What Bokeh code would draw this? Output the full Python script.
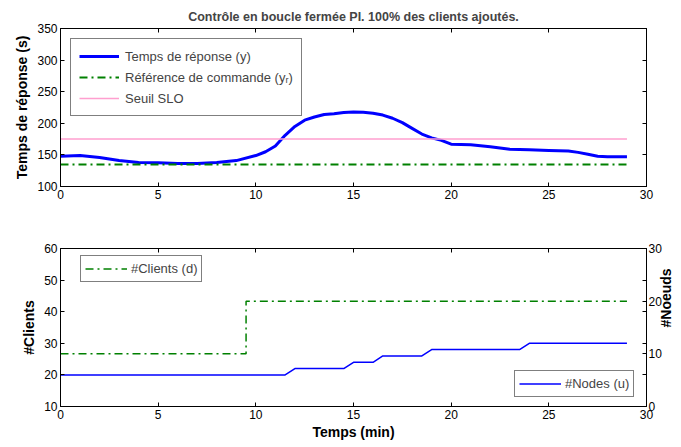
import math
from bokeh.plotting import figure
from bokeh.layouts import column
from bokeh.models import (Range1d, LinearAxis, FixedTicker, Legend, LegendItem, Title)
from bokeh.embed import file_html
from bokeh.resources import INLINE

# ---------------- data ----------------
# Top panel: response time (s) vs time (min)
t_resp = [0, 1, 2, 3, 4, 5, 6, 7, 8, 9, 10, 10.5, 11, 11.5, 12, 12.5, 13, 13.5, 14, 14.5,
          15, 15.5, 16, 16.5, 17, 17.5, 18, 18.5, 19, 19.5, 20, 21, 22, 23, 24, 25, 26, 26.5,
          27, 27.5, 28, 29]
y_resp = [148, 149, 146, 141, 138, 137.5, 136.5, 136.5, 138, 141, 149, 155, 164, 181, 195,
          205, 210, 214, 215, 217, 218, 217.5, 216, 213, 208, 201, 192, 183, 177, 173, 167, 166,
          163, 159, 158, 157, 156, 154, 151, 148, 147, 147]
t_ref = [0, 29]
y_ref = [135, 135]       # reference (y_r)
y_slo = [175, 175]       # SLO threshold

# Bottom panel
t_clients = [0, 9.5, 9.5, 29]
clients = [10, 10, 20, 20]          # plotted on right axis scale
t_nodes = [0, 11.5, 12, 14.5, 15, 16, 16.5, 18.5, 19, 23.5, 24, 29]
nodes = [20, 20, 22, 22, 24, 24, 26, 26, 28, 28, 30, 30]

x_ticks = [0, 5, 10, 15, 20, 25, 30]
top_y_ticks = [100, 150, 200, 250, 300, 350]
bot_y_ticks = [10, 20, 30, 40, 50, 60]
right_ticks = [0, 10, 20, 30]

FONT = "Liberation Sans"
BLUE = "#0000ff"
GREEN = "#008000"
PINK = "#ff9fcf"

LEFT = 60
RIGHT = 33
FW = 586
FH = 158


def style_axis(ax, labels=True):
    ax.major_tick_in = 4
    ax.major_tick_out = 0
    ax.minor_tick_line_color = None
    ax.axis_line_color = "black"
    ax.major_tick_line_color = "black"
    ax.major_label_text_font = FONT
    ax.major_label_text_font_size = "12px"
    ax.major_label_text_color = "black"
    ax.axis_label_text_font = FONT
    ax.axis_label_text_font_size = "14px"
    ax.axis_label_text_font_style = "bold"
    ax.axis_label_text_color = "black"
    ax.major_label_standoff = 3
    if not labels:
        ax.major_label_text_font_size = "0px"
        ax.major_label_text_color = None


# ---------------- top figure ----------------
p1 = figure(frame_width=FW, frame_height=FH, output_backend="svg", toolbar_location=None,
            x_range=Range1d(0, 30), y_range=Range1d(100, 350),
            min_border_left=LEFT, min_border_right=RIGHT, min_border_top=28, min_border_bottom=22)
p1.title = Title(text="Contrôle en boucle fermée PI. 100% des clients ajoutés.", align="center",
                 text_font=FONT, text_font_size="12.5px", text_font_style="bold", standoff=9)
p1.outline_line_color = "black"
p1.xgrid.visible = False
p1.ygrid.visible = False
p1.xaxis.ticker = FixedTicker(ticks=x_ticks)
p1.yaxis.ticker = FixedTicker(ticks=top_y_ticks)
p1.yaxis.axis_label = "Temps de réponse (s)"
style_axis(p1.xaxis[0])
style_axis(p1.yaxis[0])
p1.yaxis.axis_label_standoff = 4
ax_t = LinearAxis(ticker=FixedTicker(ticks=x_ticks))
style_axis(ax_t, labels=False)
p1.add_layout(ax_t, "above")
ax_r = LinearAxis(ticker=FixedTicker(ticks=top_y_ticks))
style_axis(ax_r, labels=False)
p1.add_layout(ax_r, "right")

r_y = p1.line(t_resp, y_resp, line_color=BLUE, line_width=3)
r_ref = p1.line(t_ref, y_ref, line_color=GREEN, line_width=2, line_dash="8 4 2 4")
r_slo = p1.line(t_ref, y_slo, line_color=PINK, line_width=1.5)

leg1 = Legend(items=[LegendItem(label="Temps de réponse (y)", renderers=[r_y]),
                     LegendItem(label="Référence de commande (yᵣ)", renderers=[r_ref]),
                     LegendItem(label="Seuil SLO", renderers=[r_slo])],
              location="top_left", margin=10, padding=8, spacing=3,
              glyph_width=40, glyph_height=18, label_height=18, label_standoff=6,
              label_text_font=FONT, label_text_font_size="13px",
              border_line_color="black", border_line_width=1, background_fill_alpha=1)
p1.add_layout(leg1, "center")

# ---------------- bottom figure ----------------
p2 = figure(frame_width=FW, frame_height=FH, output_backend="svg", toolbar_location=None,
            x_range=Range1d(0, 30), y_range=Range1d(10, 60),
            min_border_left=LEFT, min_border_right=RIGHT, min_border_top=40, min_border_bottom=10)
p2.extra_y_ranges = {"nodes": Range1d(0, 30)}
p2.outline_line_color = "black"
p2.xgrid.visible = False
p2.ygrid.visible = False
p2.xaxis.ticker = FixedTicker(ticks=x_ticks)
p2.yaxis.ticker = FixedTicker(ticks=bot_y_ticks)
p2.yaxis.axis_label = "#Clients"
p2.xaxis.axis_label = "Temps (min)"
style_axis(p2.xaxis[0])
style_axis(p2.yaxis[0])
p2.yaxis.axis_label_standoff = 4
p2.xaxis.axis_label_standoff = 2
ax_t2 = LinearAxis(ticker=FixedTicker(ticks=x_ticks))
style_axis(ax_t2, labels=False)
p2.add_layout(ax_t2, "above")
ax_r2 = LinearAxis(y_range_name="nodes", axis_label="#Noeuds",
                   ticker=FixedTicker(ticks=right_ticks, minor_ticks=[6, 12, 18, 24]))
style_axis(ax_r2)
ax_r2.minor_tick_line_color = "black"
ax_r2.minor_tick_in = 4
ax_r2.minor_tick_out = 0
ax_r2.major_label_standoff = 2
ax_r2.axis_label_standoff = 1
ax_r2.axis_label_orientation = math.pi / 2
p2.add_layout(ax_r2, "right")

r_cl = p2.line(t_clients, clients, y_range_name="nodes", line_color=GREEN, line_width=1.5,
               line_dash="8 4 2 4")
r_nd = p2.line(t_nodes, nodes, line_color=BLUE, line_width=1.5)

leg2 = Legend(items=[LegendItem(label="#Clients (d)", renderers=[r_cl])],
              location=(20, FH - 10 - 24), padding=4, spacing=0,
              glyph_width=42, glyph_height=17, label_height=17, label_standoff=4,
              label_text_font=FONT, label_text_font_size="13px",
              border_line_color="black", border_line_width=1, background_fill_alpha=1)
leg3 = Legend(items=[LegendItem(label="#Nodes (u)", renderers=[r_nd])],
              location=(FW - 4 - 128, 9), padding=4, spacing=0,
              glyph_width=42, glyph_height=17, label_height=17, label_standoff=4,
              label_text_font=FONT, label_text_font_size="13px",
              border_line_color="black", border_line_width=1, background_fill_alpha=1)
p2.add_layout(leg2, "center")
p2.add_layout(leg3, "center")

layout = column(p1, p2, spacing=0)
open("out.html", "w").write(file_html(layout, INLINE))
